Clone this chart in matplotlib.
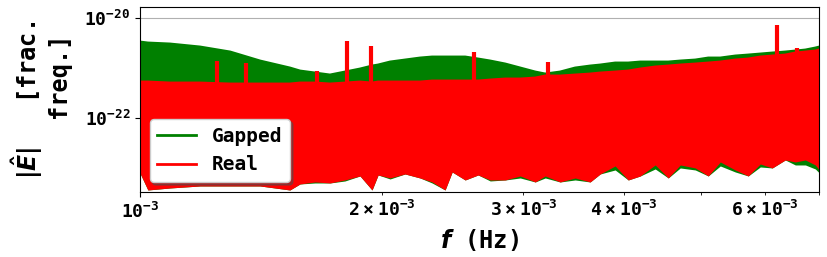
import numpy as np
import matplotlib
matplotlib.use("Agg")
import matplotlib.pyplot as plt

# frequency grid (Hz) at which the envelopes were read
freq = np.array([
	1.000, 1.023, 1.090, 1.188, 1.295, 1.411, 1.537, 1.582, 1.652, 1.724,
	1.800, 1.879, 1.945, 1.979, 2.048, 2.138, 2.232, 2.310, 2.398, 2.447,
	2.540, 2.636, 2.729, 2.849, 2.974, 3.105, 3.195, 3.334, 3.481, 3.634,
	3.740, 3.904, 4.053, 4.195, 4.379, 4.546, 4.705, 4.912, 5.098, 5.277,
	5.508, 5.717, 5.918, 6.124, 6.357, 6.543, 6.734, 6.929, 7.009]) * 1e-3

# log10 |E| : upper envelopes
gapped_top = np.array([
	-20.48, -20.50, -20.52, -20.58, -20.68, -20.86, -21.00, -21.06, -21.10, -21.14,
	-21.08, -21.02, -20.96, -20.94, -20.88, -20.84, -20.80, -20.78, -20.78, -20.78,
	-20.78, -20.82, -20.86, -20.92, -21.00, -21.08, -21.12, -21.08, -21.00, -20.96,
	-20.94, -20.90, -20.90, -20.88, -20.88, -20.88, -20.86, -20.84, -20.80, -20.80,
	-20.76, -20.74, -20.72, -20.70, -20.68, -20.66, -20.64, -20.60, -20.58])
real_top = np.array([
	-21.28, -21.28, -21.30, -21.30, -21.32, -21.32, -21.32, -21.30, -21.30, -21.32,
	-21.30, -21.28, -21.30, -21.28, -21.28, -21.28, -21.28, -21.26, -21.26, -21.26,
	-21.26, -21.26, -21.24, -21.22, -21.22, -21.20, -21.16, -21.16, -21.14, -21.12,
	-21.10, -21.08, -21.06, -21.02, -20.98, -20.96, -20.94, -20.92, -20.90, -20.88,
	-20.84, -20.82, -20.78, -20.76, -20.74, -20.70, -20.68, -20.66, -20.64])

# log10 |E| : lower envelopes (deepest dips visible)
gapped_low = np.array([
	-23.10, -23.44, -23.40, -23.36, -23.36, -23.36, -23.44, -23.32, -23.30, -23.30,
	-23.26, -23.16, -23.44, -23.14, -23.22, -23.12, -23.20, -23.30, -23.44, -23.08,
	-23.24, -23.14, -23.26, -23.24, -23.20, -23.28, -23.20, -23.28, -23.24, -23.28,
	-23.12, -23.04, -23.24, -23.16, -23.02, -23.20, -23.00, -23.04, -23.16, -22.96,
	-23.08, -23.16, -22.98, -23.00, -22.84, -22.94, -22.94, -23.02, -23.10])
real_low = np.array([
	-23.10, -23.44, -23.40, -23.36, -23.36, -23.36, -23.44, -23.32, -23.28, -23.30,
	-23.24, -23.16, -23.44, -23.14, -23.20, -23.12, -23.20, -23.28, -23.44, -23.08,
	-23.24, -23.14, -23.24, -23.24, -23.16, -23.28, -23.16, -23.28, -23.20, -23.28,
	-23.12, -22.96, -23.24, -23.16, -22.94, -23.20, -22.94, -23.00, -23.16, -22.88,
	-23.04, -23.16, -22.92, -23.00, -22.84, -22.88, -22.84, -22.94, -23.04])

# narrow lines in the real data
spike_freq = np.array([1.247, 1.355, 1.661, 1.810, 1.940, 2.606, 3.222, 6.21, 6.58]) * 1e-3
spike_top = np.array([-20.86, -20.90, -21.07, -20.46, -20.56, -20.69, -20.88, -20.14, -20.61])

plt.rcParams["font.family"] = "DejaVu Sans Mono"
plt.rcParams["font.weight"] = "bold"
plt.rcParams["axes.labelweight"] = "bold"
plt.rcParams["mathtext.fontset"] = "custom"
plt.rcParams["mathtext.rm"] = "DejaVu Sans:bold"
plt.rcParams["mathtext.it"] = "DejaVu Sans:italic:bold"
plt.rcParams["mathtext.bf"] = "DejaVu Sans:bold"


def main():
	fig, ax = plt.subplots(figsize = (8.28, 2.57), dpi = 100)
	fig.subplots_adjust(left = 0.169, right = 0.989, top = 0.973, bottom = 0.253)

	ax.fill_between(freq, 10**gapped_low, 10**gapped_top, color = "green", lw = 0)
	ax.plot(freq, 10**gapped_top, c = "green", lw = 2, label = "Gapped")
	ax.fill_between(freq, 10**real_low, 10**real_top, color = "red", lw = 0)
	ax.plot(freq, 10**real_top, c = "red", lw = 2, label = "Real")
	ax.vlines(spike_freq, 1e-22, 10**spike_top, color = "red", lw = 3)

	ax.set_xscale("log")
	ax.set_yscale("log")
	ax.set_xlim(1e-3, 7.0e-3)
	ax.set_ylim(10**-23.48, 10**-19.78)
	ax.set_yticks([1e-22, 1e-20])
	ax.yaxis.set_minor_locator(matplotlib.ticker.NullLocator())
	ax.set_axisbelow(True)
	ax.grid(axis = "y", which = "major")
	ax.tick_params(which = "both", labelsize = 13)

	ax.set_xlabel(r"$f$ (Hz)", fontsize = 17)
	ax.set_ylabel("$|\\hat{E}|$   [frac.\nfreq.] ", fontsize = 17,
		multialignment = "right", labelpad = 8)
	ax.legend(loc = "lower left", fontsize = 14, framealpha = 1, shadow = True)

	plt.savefig("out.png")


if __name__ == "__main__":
	main()
